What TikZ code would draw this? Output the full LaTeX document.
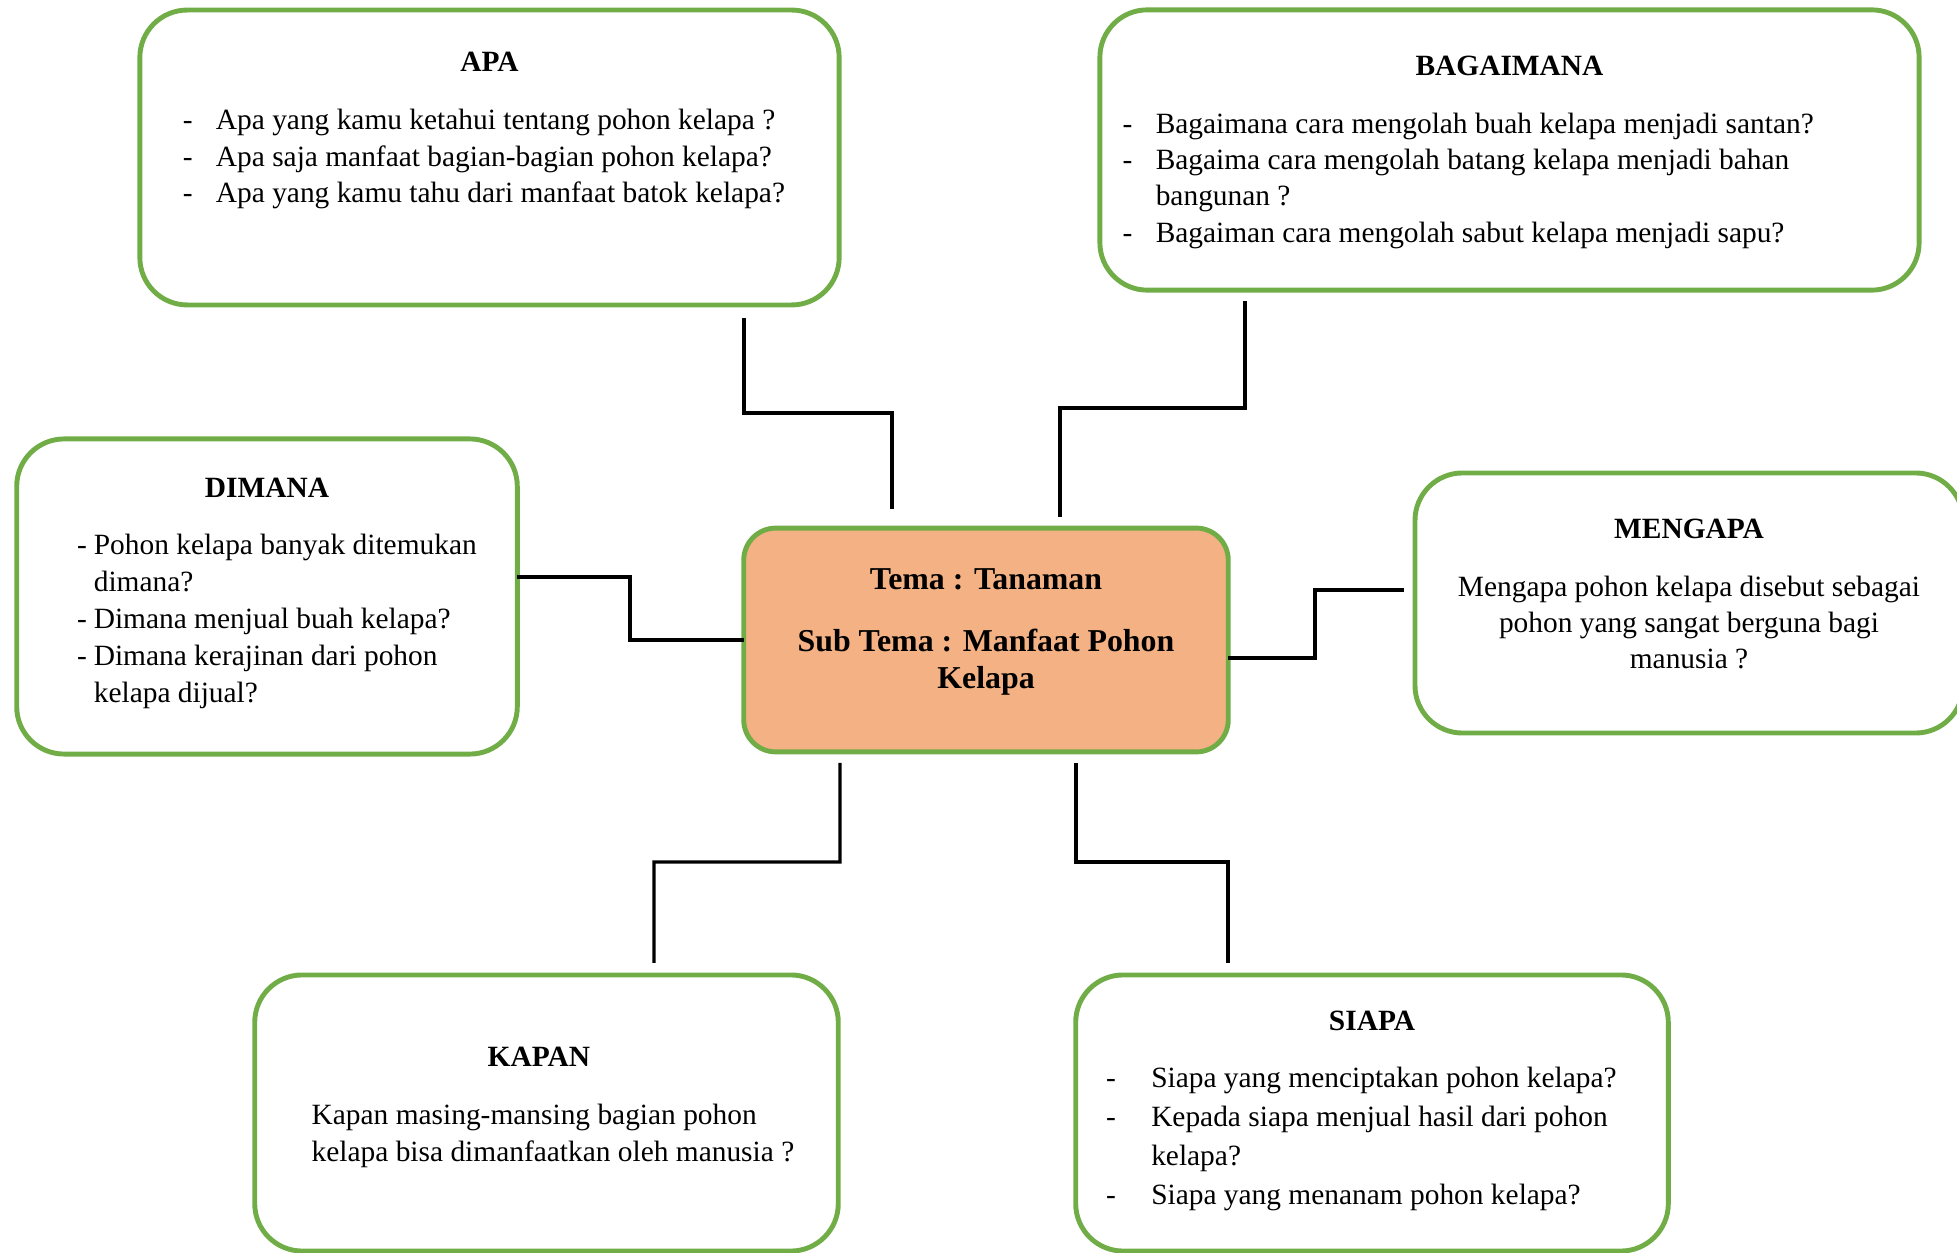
\documentclass[tikz,border=0pt]{standalone}
\usepackage{fontspec}
\setmainfont{Liberation Serif}
\usetikzlibrary{positioning}

\definecolor{hijau}{HTML}{70AD47}
\definecolor{oranye}{HTML}{F4B183}

\newcommand{\butir}[2][13.5pt]{\makebox[#1][l]{-}#2}
\newcommand{\lanjut}[2][13.5pt]{\hspace*{#1}#2}

\begin{document}
\begin{tikzpicture}[
x=0.01435cm, y=-0.01435cm,
kotak/.style={
    draw=hijau,
    line width=2pt,
    rounded corners=0.68cm,
    outer sep=0pt
},
judul/.style={font=\fontsize{12}{14.8}\selectfont\bfseries, inner sep=0pt},
isi/.style={font=\fontsize{12}{14.8}\selectfont, inner sep=0pt, align=left},
garis/.style={line width=1.4pt}
]
\useasboundingbox (0,0) rectangle (1957,1253);

% tema di tengah
\node[kotak, fill=oranye, rounded corners=0.46cm, minimum width=6.95cm, minimum height=3.21cm] (pusat) at (986,640) {};
\node[inner sep=0pt, align=center, font=\fontsize{13}{15.1}\selectfont\bfseries, above=0.115cm of pusat.center, anchor=center] (pusat-isi)
    {Tema : Tanaman\\[10.5pt] Sub Tema : Manfaat Pohon\\ Kelapa};

% kotak pertanyaan
\node[kotak, minimum width=10.03cm, minimum height=4.23cm] (apa) at (489.5,157.5) {};
\node[kotak, minimum width=11.75cm, minimum height=4.02cm] (bagaimana) at (1509.5,150) {};
\node[kotak, minimum width=7.18cm, minimum height=4.52cm] (dimana) at (267,596.5) {};
\node[kotak, minimum width=7.86cm, minimum height=3.73cm] (mengapa) at (1689,603) {};
\node[kotak, minimum width=8.37cm, minimum height=3.96cm] (kapan) at (546.5,1113) {};
\node[kotak, minimum width=8.50cm, minimum height=3.96cm] (siapa) at (1372,1113) {};

% APA
\node[judul, below=0.60cm of apa.north] (apa-judul) {APA};
\node[isi, below right=1.42cm and 0.61cm of apa.north west] (apa-isi) {
    \butir{Apa yang kamu ketahui tentang pohon kelapa ?}\\
    \butir{Apa saja manfaat bagian-bagian pohon kelapa?}\\
    \butir{Apa yang kamu tahu dari manfaat batok kelapa?}};

% BAGAIMANA
\node[judul, below=0.65cm of bagaimana.north] (bagaimana-judul) {BAGAIMANA};
\node[isi, below right=1.47cm and 0.32cm of bagaimana.north west] (bagaimana-isi) {
    \butir{Bagaimana cara mengolah buah kelapa menjadi santan?}\\
    \butir{Bagaima cara mengolah batang kelapa menjadi bahan}\\
    \lanjut{bangunan ?}\\
    \butir{Bagaiman cara mengolah sabut kelapa menjadi sapu?}};

% DIMANA
\node[judul, below=0.55cm of dimana.north] (dimana-judul) {DIMANA};
\node[isi, font=\fontsize{12}{15.1}\selectfont, below right=1.36cm and 0.86cm of dimana.north west] (dimana-isi) {
    \butir[6.8pt]{Pohon kelapa banyak ditemukan}\\
    \lanjut[6.8pt]{dimana?}\\
    \butir[6.8pt]{Dimana menjual buah kelapa?}\\
    \butir[6.8pt]{Dimana kerajinan dari pohon}\\
    \lanjut[6.8pt]{kelapa dijual?}};

% MENGAPA
\node[judul, below=0.65cm of mengapa.north] (mengapa-judul) {MENGAPA};
\node[isi, align=center, below=1.47cm of mengapa.north] (mengapa-isi)
    {Mengapa pohon kelapa disebut sebagai\\ pohon yang sangat berguna bagi\\ manusia ?};

% KAPAN
\node[judul, below=1.03cm of kapan.north, xshift=-0.11cm] (kapan-judul) {KAPAN};
\node[isi, below right=1.85cm and 0.81cm of kapan.north west] (kapan-isi)
    {Kapan masing-mansing bagian pohon\\ kelapa bisa dimanfaatkan oleh manusia ?};

% SIAPA
\node[judul, below=0.51cm of siapa.north] (siapa-judul) {SIAPA};
\node[isi, font=\fontsize{12}{15.9}\selectfont, below right=1.32cm and 0.43cm of siapa.north west] (siapa-isi) {
    \butir[18.4pt]{Siapa yang menciptakan pohon kelapa?}\\
    \butir[18.4pt]{Kepada siapa menjual hasil dari pohon}\\
    \lanjut[18.4pt]{kelapa?}\\
    \butir[18.4pt]{Siapa yang menanam pohon kelapa?}};

% garis penghubung
\draw[garis] ([shift={(254.5,13)}]apa.south) |- (892,413) -- ([shift={(-94,-19)}]pusat.north);
\draw[garis] ([shift={(-264.5,11)}]bagaimana.south) |- (1060,408) -- ([shift={(74,-11)}]pusat.north);
\draw[garis] ([shift={(0,-19.5)}]dimana.east) -| (630,640) -- (pusat.west);
\draw[garis] ([shift={(0,18)}]pusat.east) -| (1315,590) -- ([shift={(-11,-13)}]mengapa.west);
\draw[garis] ([shift={(-146,11)}]pusat.south) |- (654,862) -- ([shift={(107.5,-12)}]kapan.north);
\draw[garis] ([shift={(90,11)}]pusat.south) |- (1228,862) -- ([shift={(-144,-12)}]siapa.north);
\end{tikzpicture}
\end{document}
